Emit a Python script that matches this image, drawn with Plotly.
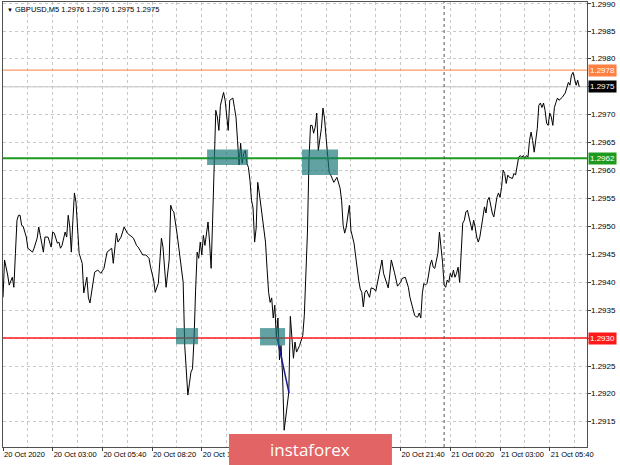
import pandas as pd
import plotly.graph_objects as go

# ---------------- data ----------------
symbol = "GBPUSD,M5"
start = "2020-10-20 00:20"
bar_minutes = 5
last_ohlc = [1.2976, 1.2976, 1.2975, 1.2975]

# M5 bar number (from the first bar) and close price at the line's vertices
bars = [0, 1, 3, 4, 6, 7, 8, 9, 10, 11, 12, 13, 15, 16, 19, 20, 22, 23, 24, 26,
        27, 29, 31, 32, 33, 35, 36, 37, 38, 40, 41, 42, 43, 44, 45, 46, 47, 48, 49, 51,
        52, 54, 55, 56, 58, 59, 61, 63, 65, 67, 70, 71, 73, 74, 76, 78, 80,
        84, 86, 87, 90, 92, 94, 95, 97, 98, 100, 101, 102, 103, 105, 107, 108, 109, 110,
        112, 114, 116, 117, 119, 120, 121, 122, 123, 124, 125, 126, 127, 128, 129, 130,
        132, 133, 134, 135, 136, 137, 138, 139, 140, 141, 142, 143, 144, 145, 146, 148,
        149, 150, 151, 152, 153, 154, 155, 156, 157, 158, 159, 160, 161, 162, 163, 164,
        165, 167, 169, 170, 171, 172, 173, 174, 175, 176, 177, 178, 179, 180, 181, 182,
        183, 184, 185, 187, 188, 189, 191, 193, 194, 196, 197, 198, 199, 200, 201, 202,
        203, 205, 206, 207, 208, 209, 210, 211, 212, 213, 215, 216, 217, 218, 219, 220,
        221, 223, 224, 226, 228, 229, 230, 231, 232, 233, 234, 236, 237, 239, 240, 242,
        244, 245, 248, 249, 250, 252, 254, 256, 257, 259, 261, 262, 263, 264, 265, 266,
        267, 268, 269, 270, 271, 272, 273, 274, 275, 276, 277, 278, 280, 281, 282, 283,
        284, 285, 286, 287, 288, 289, 290, 291, 292, 293, 294, 296, 297, 298, 299, 300,
        301, 302, 303, 304, 305, 306, 307, 309, 310, 311, 312, 313, 314, 315, 316, 317,
        318, 319, 320, 321, 322, 323, 324, 325, 326, 328, 329, 330, 331, 332, 333, 334,
        335, 336, 337, 338, 339, 340, 341, 342, 344, 345, 346, 347, 348, 349, 350, 351,
        352, 353, 354, 355, 356, 357, 358, 360, 362, 364, 365, 366, 367, 368, 369, 370,
        371]
closes = [1.29373, 1.29440, 1.29413, 1.29395, 1.29409, 1.29391, 1.29452, 1.29511, 1.29520, 1.29520,
          1.29502, 1.29500, 1.29481, 1.29461, 1.29454, 1.29461, 1.29479, 1.29499, 1.29484, 1.29454,
          1.29481, 1.29481, 1.29463, 1.29490, 1.29488, 1.29470, 1.29472, 1.29461, 1.29466, 1.29490,
          1.29481, 1.29520, 1.29499, 1.29454, 1.29511, 1.29560, 1.29543, 1.29499, 1.29452, 1.29434,
          1.29381, 1.29409, 1.29372, 1.29363, 1.29404, 1.29418, 1.29422, 1.29416, 1.29425, 1.29454,
          1.29461, 1.29434, 1.29488, 1.29472, 1.29481, 1.29499, 1.29488,
          1.29479, 1.29466, 1.29463, 1.29449, 1.29449, 1.29443, 1.29427, 1.29404, 1.29382, 1.29398,
          1.29436, 1.29479, 1.29463, 1.29391, 1.29440, 1.29538, 1.29529, 1.29526,
          1.29488, 1.29445, 1.29400, 1.29287, 1.29198, 1.29218, 1.29239, 1.29245, 1.29298, 1.29386,
          1.29454, 1.29443, 1.29472, 1.29449, 1.29484, 1.29466,
          1.29508, 1.29472, 1.29425, 1.29515, 1.29604, 1.29708, 1.29696, 1.29672, 1.29717, 1.29731,
          1.29740, 1.29726, 1.29696, 1.29672, 1.29726, 1.29730,
          1.29713, 1.29696, 1.29654, 1.29610, 1.29649, 1.29613, 1.29631, 1.29636, 1.29613, 1.29606,
          1.29583, 1.29547, 1.29533, 1.29472, 1.29497, 1.29579,
          1.29560, 1.29515, 1.29472, 1.29425, 1.29382, 1.29364, 1.29372, 1.29336, 1.29359, 1.29300,
          1.29336, 1.29261, 1.29287, 1.29234, 1.29135, 1.29157,
          1.29185, 1.29203, 1.29339, 1.29264, 1.29293, 1.29275, 1.29287, 1.29305, 1.29341, 1.29488,
          1.29619, 1.29681, 1.29681, 1.29667, 1.29678, 1.29703,
          1.29636, 1.29676, 1.29712, 1.29694, 1.29660, 1.29628, 1.29597, 1.29592, 1.29586, 1.29579,
          1.29588, 1.29577, 1.29569, 1.29547, 1.29502, 1.29488,
          1.29499, 1.29538, 1.29493, 1.29470, 1.29422, 1.29404, 1.29388, 1.29382, 1.29356, 1.29382,
          1.29386, 1.29373, 1.29390, 1.29388, 1.29384, 1.29409,
          1.29440, 1.29416, 1.29390, 1.29413, 1.29440, 1.29418, 1.29393, 1.29400, 1.29407, 1.29409,
          1.29391, 1.29373, 1.29363, 1.29354, 1.29341, 1.29338,
          1.29338, 1.29345, 1.29336, 1.29381, 1.29398, 1.29395, 1.29398, 1.29413, 1.29431, 1.29440,
          1.29427, 1.29425, 1.29452, 1.29490, 1.29466, 1.29436,
          1.29395, 1.29391, 1.29404, 1.29400, 1.29416, 1.29409, 1.29422, 1.29409, 1.29416, 1.29427,
          1.29400, 1.29506, 1.29511, 1.29526, 1.29529, 1.29517,
          1.29506, 1.29493, 1.29511, 1.29499, 1.29481, 1.29472, 1.29481, 1.29517, 1.29535, 1.29524,
          1.29547, 1.29552, 1.29535, 1.29524, 1.29517, 1.29535,
          1.29552, 1.29560, 1.29552, 1.29570, 1.29601, 1.29595, 1.29577, 1.29592, 1.29588, 1.29586,
          1.29595, 1.29592, 1.29606, 1.29624, 1.29627, 1.29624,
          1.29627, 1.29622, 1.29627, 1.29624, 1.29654, 1.29669, 1.29654, 1.29633, 1.29676, 1.29717,
          1.29721, 1.29713, 1.29721, 1.29708, 1.29685, 1.29681,
          1.29703, 1.29696, 1.29681, 1.29713, 1.29722, 1.29730, 1.29726, 1.29731, 1.29739, 1.29758,
          1.29753, 1.29771, 1.29776, 1.29762, 1.29753, 1.29762,
          1.29750]

tick_bars = [0, 32, 64, 96, 128, 160, 192, 224, 256, 288, 320, 352]
tick_labels = ["20 Oct 2020", "20 Oct 03:00", "20 Oct 05:40", "20 Oct 08:20",
               "20 Oct 11:00", "20 Oct 13:40", "20 Oct 16:20", "20 Oct 19:00",
               "20 Oct 21:40", "21 Oct 00:20", "21 Oct 03:00", "21 Oct 05:40"]
# labels fully covered by the watermark in the original screenshot
covered_labels = ["20 Oct 13:40", "20 Oct 16:20", "20 Oct 19:00"]
price_ticks = [1.2915, 1.2920, 1.2925, 1.2930, 1.2935, 1.2940, 1.2945, 1.2950,
               1.2955, 1.2960, 1.2965, 1.2970, 1.2975, 1.2980, 1.2985, 1.2990]
day_separator = "2020-10-21 00:00"

level_prices = [1.2978, 1.29622, 1.2930]
level_colors = ["#ff8040", "#1e9b1e", "#ff1a1a"]
level_widths = [1, 2, 1.5]
bid_price = 1.2975

zone_start = [131.4, 192.5, 111.4, 165.5]
zone_end = [157.8, 215.7, 125.6, 181.6]
zone_low = [1.29610, 1.29592, 1.29289, 1.29287]
zone_high = [1.29638, 1.29638, 1.29318, 1.29318]

trend_bars = [176.4, 184.2]
trend_prices = [1.29302, 1.29201]

watermark = "instaforex"

y_min, y_max = 1.29105, 1.29902
view_bars = 376
# --------------------------------------

t0 = pd.Timestamp(start)


def to_time(b):
    return t0 + pd.Timedelta(minutes=bar_minutes * b)


times = [to_time(b) for b in bars]

FONT = "Liberation Sans"
fig = go.Figure()

fig.add_trace(go.Scatter(x=times, y=closes, mode="lines",
                         line=dict(color="#000000", width=1), hoverinfo="skip"))
fig.add_trace(go.Scatter(x=[to_time(b) for b in trend_bars], y=trend_prices, mode="lines",
                         line=dict(color="#1a1a96", width=1.5), hoverinfo="skip"))

shapes = []
shapes.append(dict(type="line", xref="paper", x0=0, x1=1, yref="y", y0=bid_price, y1=bid_price,
                   line=dict(color="#c4c4c4", width=1), layer="below"))
for p, c, w in zip(level_prices, level_colors, level_widths):
    shapes.append(dict(type="line", xref="paper", x0=0, x1=1, yref="y", y0=p, y1=p,
                       line=dict(color=c, width=w)))
shapes.append(dict(type="line", xref="x", x0=day_separator, x1=day_separator, yref="paper",
                   y0=0, y1=1, line=dict(color="#555555", width=1, dash="dot")))
for s, e, lo, hi in zip(zone_start, zone_end, zone_low, zone_high):
    shapes.append(dict(type="rect", xref="x", yref="y", x0=to_time(s), x1=to_time(e),
                       y0=lo, y1=hi, fillcolor="rgba(25,118,118,0.68)", line=dict(width=0),
                       layer="above"))
shapes.append(dict(type="rect", xref="paper", yref="paper", x0=0.387, x1=0.666,
                   y0=-0.0405, y1=0.029, fillcolor="#e36464", line=dict(width=0), layer="above"))

# price-scale labels are written as annotations (placed by the y axis), skipping those
# covered by a coloured price box
marked = [round(p, 4) for p in level_prices] + [bid_price]
x_text = ["" if t in covered_labels else t for t in tick_labels]

annotations = []
for v in price_ticks:
    if round(v, 4) in marked:
        continue
    annotations.append(dict(xref="paper", x=1, xanchor="left", xshift=2, yref="y", y=v,
                            yanchor="middle", yshift=(-1 if v == max(price_ticks) else 0),
                            text=f"{v:.4f}", showarrow=False, borderpad=1,
                            font=dict(family=FONT, size=8, color="#000000")))
for p, c in zip(level_prices, level_colors):
    annotations.append(dict(xref="paper", x=1, xanchor="left", xshift=1, yref="y", y=p,
                            text=f"{p:.4f}", showarrow=False, bgcolor=c, borderpad=1,
                            font=dict(family=FONT, size=8, color="white")))
annotations.append(dict(xref="paper", x=1, xanchor="left", xshift=1, yref="y", y=bid_price,
                        text=f"{bid_price:.4f}", showarrow=False, bgcolor="#000000",
                        borderpad=1, font=dict(family=FONT, size=8, color="white")))
annotations.append(dict(xref="paper", x=0, xanchor="left", xshift=2, yref="paper", y=1,
                        yanchor="top", yshift=-1, showarrow=False,
                        text="<span style='font-size:6px'>▼</span> " + symbol + " "
                        + " ".join(f"{v:.4f}" for v in last_ohlc),
                        font=dict(family=FONT, size=7.5, color="#000000")))
annotations.append(dict(xref="paper", x=0.5265, xanchor="center", yref="paper", y=-0.006,
                        yanchor="middle", showarrow=False, text=watermark,
                        font=dict(family="Open Sans", size=17, color="white")))

fig.update_layout(
    width=620, height=465,
    margin=dict(l=3, r=33, t=2, b=18, autoexpand=False),
    paper_bgcolor="white", plot_bgcolor="white",
    showlegend=False,
    shapes=shapes, annotations=annotations,
    xaxis=dict(
        type="date", automargin=False,
        range=[t0, to_time(view_bars)],
        tickvals=[to_time(b) for b in tick_bars], ticktext=x_text,
        ticklabelposition="outside right", tickangle=0,
        ticks="outside", ticklen=3, tickcolor="#404040",
        tickfont=dict(family=FONT, size=7.5, color="#000000"),
        showgrid=True, gridcolor="#c8c8c8", griddash="dot", gridwidth=1,
        minor=dict(tick0=t0, dtick=16 * bar_minutes * 60 * 1000, showgrid=True,
                   gridcolor="#c8c8c8", griddash="dot", ticks=""),
        showline=True, linecolor="#505050", linewidth=1, mirror=True,
        zeroline=False, fixedrange=True,
    ),
    yaxis=dict(
        automargin=False,
        side="right", range=[y_min, y_max],
        tickvals=price_ticks, showticklabels=False,
        ticks="outside", ticklen=3, tickcolor="#404040",
        showgrid=True, gridcolor="#c8c8c8", griddash="dot", gridwidth=1,
        showline=True, linecolor="#505050", linewidth=1, mirror=True,
        zeroline=False, fixedrange=True,
    ),
)

fig.write_html("out.html", config={"displayModeBar": False},
               post_script="document.body.style.margin='0';")
